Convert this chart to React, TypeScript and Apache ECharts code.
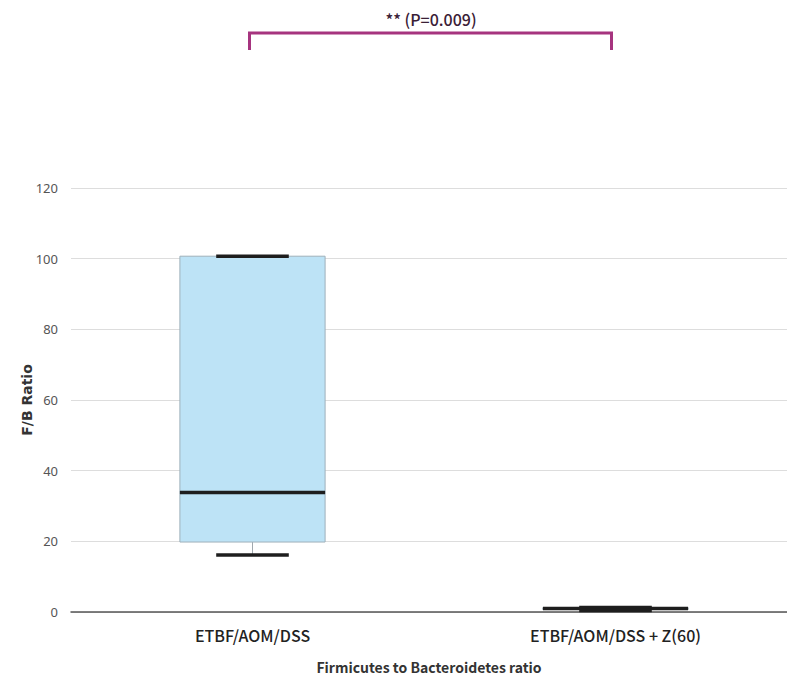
import React, { useEffect, useRef } from "react";
import * as echarts from "echarts";

const categories = ["ETBF/AOM/DSS", "ETBF/AOM/DSS + Z(60)"];
const minValues = [16.1, 0.4];
const q1Values = [19.8, 0.7];
const medianValues = [33.8, 1.0];
const q3Values = [100.7, 1.2];
const maxValues = [100.7, 1.3];
const yTicks = [0, 20, 40, 60, 80, 100, 120];
const annotationText = "** (P=0.009)";
const yAxisName = "F/B Ratio";
const xAxisName = "Firmicutes to Bacteroidetes ratio";

export default function App() {
  const ref = useRef<HTMLDivElement>(null);
  useEffect(() => {
    if (!ref.current) return;
    const chart = echarts.init(ref.current, undefined, { renderer: "svg" });
    const data = categories.map((_, i) => [
      i,
      minValues[i],
      q1Values[i],
      medianValues[i],
      q3Values[i],
      maxValues[i],
    ]);
    const font = "'Noto Sans CJK KR', 'Noto Sans', sans-serif";
    chart.setOption({
      animation: false,
      backgroundColor: "#ffffff",
      grid: { left: 71, top: 188, height: 424, width: 726, outerBoundsMode: "none", containLabel: false },
      xAxis: {
        type: "category",
        data: categories,
        boundaryGap: true,
        axisLine: { lineStyle: { color: "#555", width: 1.5 } },
        axisTick: { alignWithLabel: true, length: 5, lineStyle: { color: "#777" } },
        axisLabel: { color: "#222", fontSize: 16, fontFamily: font, fontWeight: 500, margin: 15 },
        name: xAxisName,
        nameLocation: "middle",
        nameGap: 48,
        nameMoveOverlap: false,
        nameTextStyle: { color: "#333", fontSize: 14, fontFamily: font, fontWeight: "bold", padding: [0, 0, 0, -10] },
        splitLine: { show: false },
      },
      yAxis: {
        type: "value",
        min: yTicks[0],
        max: yTicks[yTicks.length - 1],
        interval: 20,
        axisLine: { show: false },
        axisTick: { show: false },
        axisLabel: { color: "#555", fontSize: 13, fontFamily: "'Noto Sans', sans-serif", margin: 13 },
        splitLine: { lineStyle: { color: "#dddddd", width: 1 } },
        name: yAxisName,
        nameLocation: "middle",
        nameGap: 37,
        nameMoveOverlap: false,
        nameTextStyle: { color: "#333", fontSize: 14, fontFamily: "'DejaVu Sans', sans-serif", fontWeight: "bold" },
      },
      series: [
        {
          type: "custom",
          data,
          clip: false,
          encode: { x: 0, y: [1, 2, 3, 4, 5] },
          renderItem: (params: any, api: any) => {
            const x = api.value(0);
            const band = api.size([1, 0])[0];
            const boxW = band * 0.4;
            const capW = band * 0.2;
            const pMin = api.coord([x, api.value(1)]);
            const pQ1 = api.coord([x, api.value(2)]);
            const pMed = api.coord([x, api.value(3)]);
            const pQ3 = api.coord([x, api.value(4)]);
            const pMax = api.coord([x, api.value(5)]);
            const cx = pMed[0];
            const thin = { stroke: "#a0a8ae", lineWidth: 1 };
            const thick = { stroke: "#1e1e1e", lineWidth: 3.5 };
            return {
              type: "group",
              children: [
                { type: "line", shape: { x1: cx, y1: pQ3[1], x2: cx, y2: pMax[1] }, style: thin },
                { type: "line", shape: { x1: cx, y1: pQ1[1], x2: cx, y2: pMin[1] }, style: thin },
                {
                  type: "rect",
                  shape: { x: cx - boxW / 2, y: pQ3[1], width: boxW, height: Math.max(pQ1[1] - pQ3[1], 0.5) },
                  style: { fill: "#bde3f6", stroke: "#9fb0ba", lineWidth: 1 },
                },
                { type: "line", shape: { x1: cx - boxW / 2, y1: pMed[1], x2: cx + boxW / 2, y2: pMed[1] }, style: thick },
                { type: "line", shape: { x1: cx - capW / 2, y1: pMax[1], x2: cx + capW / 2, y2: pMax[1] }, style: thick },
                { type: "line", shape: { x1: cx - capW / 2, y1: pMin[1], x2: cx + capW / 2, y2: pMin[1] }, style: thick },
              ],
            };
          },
        },
      ],
    });
    const left = chart.convertToPixel({ xAxisIndex: 0 }, categories[0]) as number;
    const right = chart.convertToPixel({ xAxisIndex: 0 }, categories[1]) as number;
    const bracketColor = "#a6347f";
    chart.setOption({
      graphic: [
        {
          type: "polyline",
          shape: { points: [[left - 3, 50], [left - 3, 33], [right - 4, 33], [right - 4, 50]] },
          style: { stroke: bracketColor, lineWidth: 3, fill: null },
        },
        {
          type: "text",
          x: (left + right) / 2 - 3,
          y: 19,
          style: {
            text: annotationText,
            fill: "#3a2036",
            font: `500 16px ${font}`,
            align: "center",
            verticalAlign: "middle",
          },
        },
      ],
    });
    return () => chart.dispose();
  }, []);
  return (
    <div
      ref={ref}
      style={{ position: "absolute", left: 0, top: 0, width: 787, height: 677 }}
    />
  );
}
